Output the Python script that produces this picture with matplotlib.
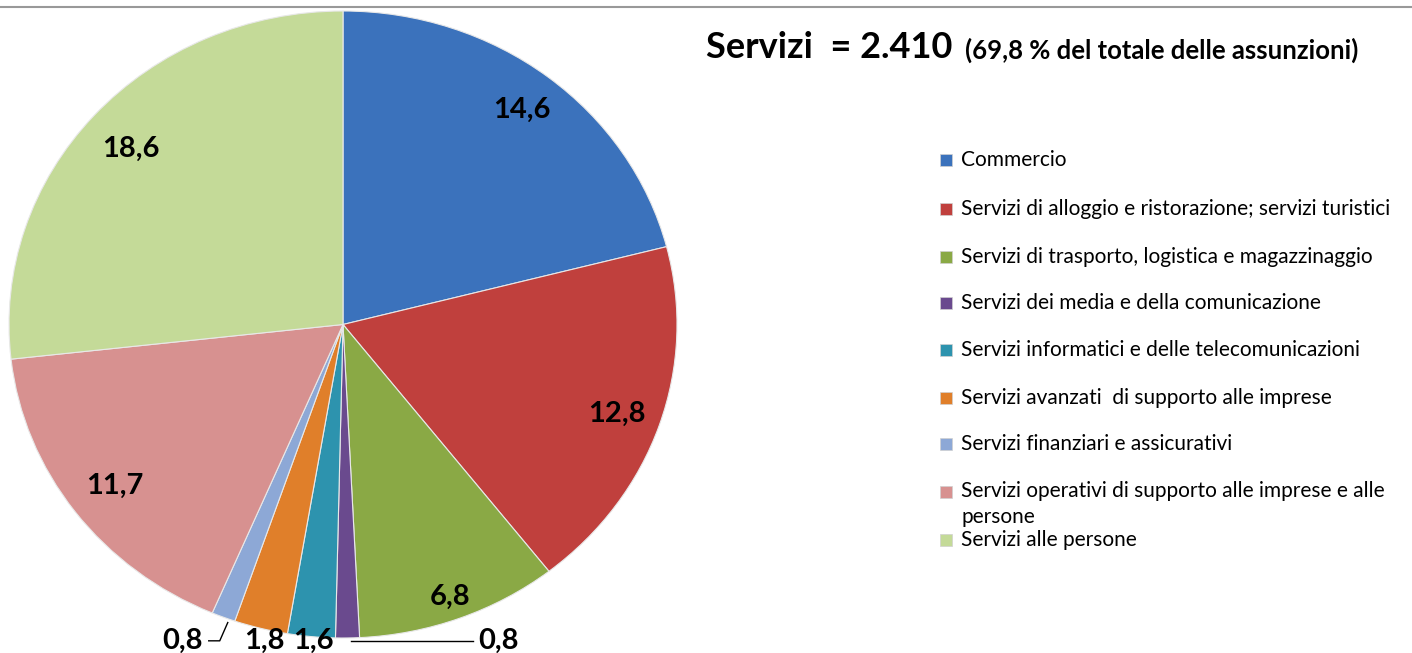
import matplotlib.pyplot as plt
import numpy as np
from matplotlib.lines import Line2D
from matplotlib.patches import Rectangle

plt.rcParams['font.family'] = ['Lato', 'DejaVu Sans']

settori = [
    "Commercio",
    "Servizi di alloggio e ristorazione; servizi turistici",
    "Servizi di trasporto, logistica e magazzinaggio",
    "Servizi dei media e della comunicazione",
    "Servizi informatici e delle telecomunicazioni",
    "Servizi avanzati  di supporto alle imprese",
    "Servizi finanziari e assicurativi",
    "Servizi operativi di supporto alle imprese e alle\npersone",
    "Servizi alle persone",
]
quote = [14.6, 12.8, 6.8, 0.8, 1.6, 1.8, 0.8, 11.7, 18.6]
etichette = ["14,6", "12,8", "6,8", "0,8", "1,6", "1,8", "0,8", "11,7", "18,6"]
colori = ['#3B72BC', '#C0403D', '#8AA945', '#6A4A8E', '#2D93AE',
          '#E07F2A', '#8DA8D6', '#D79190', '#C4DA98']

W, H = 1412, 653
fig = plt.figure(figsize=(W / 100, H / 100), dpi=100)

# torta leggermente ellittica come l'originale
ax = fig.add_axes([9 / W, (H - 638) / H, 668 / W, 627 / H])
wedges, _ = ax.pie(quote, colors=colori, startangle=90, counterclock=False,
                   radius=1, wedgeprops=dict(edgecolor='#e8e8e8', linewidth=0.8))
ax.set_xlim(-1.0, 1.0)
ax.set_ylim(-1.0, 1.0)
ax.set_aspect('auto')
ax.axis('off')

fs = 21
yt = -1.0    # riga delle etichette sotto la torta
yl = -1.009  # riga delle linee guida
# distanza radiale delle etichette interne
dist = {0: 0.875, 1: 0.865, 2: 0.92, 7: 0.85, 8: 0.852}
# posizione x delle etichette sotto la torta
xsotto = {3: 0.404, 4: -0.087, 5: -0.234, 6: -0.48}
for i, w in enumerate(wedges):
    mid = np.deg2rad((w.theta1 + w.theta2) / 2)
    px, py = np.cos(mid), np.sin(mid)
    if i == 3:
        ax.plot([px + 0.01, xsotto[i] - 0.015], [yl, yl], color='black', lw=1, clip_on=False)
        ax.text(xsotto[i], yt, etichette[i], ha='left', va='center_baseline', fontsize=fs,
                fontweight='bold')
    elif i == 6:
        ax.plot([px + 0.013, px - 0.011, px - 0.044], [py - 0.017, yl, yl],
                color='black', lw=1, clip_on=False)
        ax.text(xsotto[i], yt, etichette[i], ha='center', va='center_baseline', fontsize=fs,
                fontweight='bold')
    elif i in xsotto:
        ax.text(xsotto[i], yt, etichette[i], ha='center', va='center_baseline', fontsize=fs,
                fontweight='bold')
    else:
        r = dist[i]
        ax.text(r * px, r * py, etichette[i], ha='center', va='center_baseline',
                fontsize=fs, fontweight='bold')
for t in ax.texts:
    t.set_clip_on(False)

# linea grigia in alto
fig.add_artist(Line2D([0, 1], [1 - 7 / H, 1 - 7 / H], color='#999999', lw=1.5))

# titolo
fig.text(706 / W, 1 - 47 / H, "Servizi  = 2.410", fontsize=26, fontweight='bold', va='center')
fig.text(965 / W, 1 - 50 / H, "(69,8 % del totale delle assunzioni)", fontsize=18.5,
         fontweight='bold', va='center')

# legenda
ys = [160, 209, 257, 303, 350, 398, 444, 492, 540]
for nome, col, y in zip(settori, colori, ys):
    fig.add_artist(Rectangle((940 / W, 1 - (y + 6) / H), 12 / W, 12 / H, facecolor=col,
                             edgecolor='#d0d0d0', lw=0.5, transform=fig.transFigure))
    if '\n' in nome:
        fig.text(961 / W, 1 - (y - 11) / H, nome, fontsize=15, va='top', linespacing=1.35)
    else:
        fig.text(961 / W, 1 - y / H, nome, fontsize=15, va='center')

fig.savefig('out.png', dpi=100)
